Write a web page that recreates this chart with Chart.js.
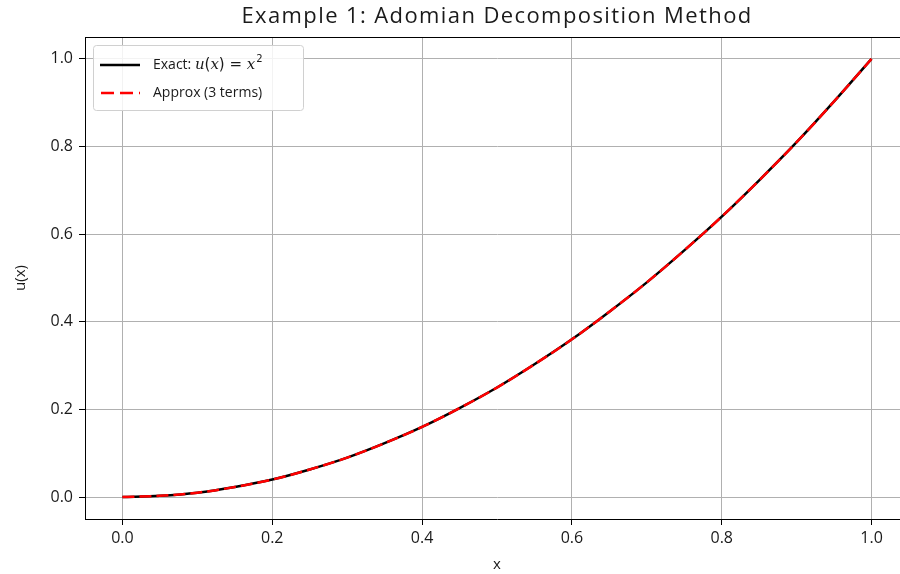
<!DOCTYPE html>
<html>
<head>
<meta charset="utf-8">
<script src="https://cdn.jsdelivr.net/npm/chart.js@4/dist/chart.umd.min.js"></script>
<style>
  html, body { margin: 0; padding: 0; background: #fff; }
  #wrap { width: 900px; height: 574px; overflow: hidden; position: relative; }
  canvas { display: block; }
</style>
</head>
<body>
<div id="wrap"><canvas id="chart" width="912" height="574"></canvas></div>
<script>
// values
const xs       = [0.00, 0.05, 0.10, 0.15, 0.20, 0.25, 0.30, 0.35, 0.40, 0.45, 0.50,
                  0.55, 0.60, 0.65, 0.70, 0.75, 0.80, 0.85, 0.90, 0.95, 1.00];
const exactU   = [0.000, 0.003, 0.010, 0.023, 0.040, 0.063, 0.090, 0.123, 0.160, 0.203, 0.250,
                  0.303, 0.360, 0.423, 0.490, 0.563, 0.640, 0.723, 0.810, 0.903, 1.000];
const approxU  = [0.000, 0.003, 0.010, 0.023, 0.040, 0.063, 0.090, 0.123, 0.160, 0.203, 0.250,
                  0.303, 0.360, 0.423, 0.490, 0.563, 0.640, 0.723, 0.810, 0.903, 1.000];
const xTicks   = [0.0, 0.2, 0.4, 0.6, 0.8, 1.0];
const yTicks   = [0.0, 0.2, 0.4, 0.6, 0.8, 1.0];
const titleText = 'Example 1: Adomian Decomposition Method';

const FONT = '"Open Sans", "DejaVu Sans", sans-serif';
const TXT = '#1a1a1a';

function pts(ys) { return xs.map((x, i) => ({ x: x, y: ys[i] })); }

// title, frame and legend drawn by hand (mixed italic in legend)
const decor = {
  id: 'decor',
  afterDraw(chart) {
    const c = chart.ctx, a = chart.chartArea;
    c.save();
    // frame top/right
    c.strokeStyle = '#000'; c.lineWidth = 1;
    c.beginPath();
    c.moveTo(a.left, a.top + 0.5); c.lineTo(a.right, a.top + 0.5);
    c.moveTo(a.right - 0.5, a.top); c.lineTo(a.right - 0.5, a.bottom);
    c.stroke();
    // title
    c.fillStyle = TXT;
    c.font = '22px ' + FONT;
    c.letterSpacing = '1.4px';
    c.textAlign = 'center'; c.textBaseline = 'middle';
    c.fillText(titleText, (a.left + a.right) / 2, 17);
    c.letterSpacing = '0px';
    // legend box
    const bx = 93, by = 45, bw = 210, bh = 65;
    c.fillStyle = 'rgba(255,255,255,0.85)';
    c.strokeStyle = '#d0d0d0';
    c.beginPath();
    c.roundRect(bx + 0.5, by + 0.5, bw, bh, 3);
    c.fill(); c.stroke();
    // sample lines
    c.lineWidth = 2.5;
    c.strokeStyle = '#000';
    c.beginPath(); c.moveTo(100, 65); c.lineTo(140, 65); c.stroke();
    c.strokeStyle = '#ff0000';
    c.setLineDash([13, 6]);
    c.beginPath(); c.moveTo(101, 93); c.lineTo(140, 93); c.stroke();
    c.setLineDash([]);
    // labels
    c.fillStyle = TXT;
    c.textAlign = 'left'; c.textBaseline = 'middle';
    let x = 153;
    c.font = '14px ' + FONT;
    c.fillText('Exact: ', x, 65); x += c.measureText('Exact: ').width;
    c.font = 'italic 15px "DejaVu Serif", serif';
    c.fillText('u', x, 65); x += c.measureText('u').width;
    c.font = '15px "DejaVu Sans", sans-serif';
    c.fillText('(', x, 65); x += c.measureText('(').width;
    c.font = 'italic 15px "DejaVu Serif", serif';
    c.fillText('x', x, 65); x += c.measureText('x').width;
    c.font = '15px "DejaVu Sans", sans-serif';
    c.fillText(') = ', x, 65); x += c.measureText(') = ').width;
    c.font = 'italic 15px "DejaVu Serif", serif';
    c.fillText('x', x, 65); x += c.measureText('x').width + 1;
    c.font = '10px "DejaVu Sans", sans-serif';
    c.fillText('2', x, 59);
    c.font = '14px ' + FONT;
    c.fillText('Approx (3 terms)', 153, 93);
    c.restore();
  }
};

new Chart(document.getElementById('chart'), {
  type: 'line',
  data: {
    datasets: [
      {
        label: 'Approx (3 terms)',
        data: pts(approxU),
        borderColor: '#ff0000',
        borderWidth: 2.5,
        borderDash: [12, 5],
        pointRadius: 0,
        cubicInterpolationMode: 'monotone',
        fill: false
      },
      {
        label: 'Exact: u(x) = x^2',
        data: pts(exactU),
        borderColor: '#000',
        borderWidth: 2.5,
        pointRadius: 0,
        cubicInterpolationMode: 'monotone',
        fill: false
      }
    ]
  },
  options: {
    responsive: false,
    animation: false,
    layout: { padding: { top: 37, right: 3, left: 0, bottom: 0 } },
    plugins: { legend: { display: false }, tooltip: { enabled: false } },
    scales: {
      x: {
        type: 'linear',
        min: -0.05, max: 1.05,
        afterBuildTicks: s => { s.ticks = xTicks.map(v => ({ value: v })); },
        afterFit: s => { s.height = 55; },
        grid: { color: '#b0b0b0', lineWidth: 1, tickColor: '#000', tickLength: 6, drawTicks: true },
        border: { color: '#000', width: 1 },
        ticks: { color: TXT, font: { family: FONT, size: 16 }, padding: 4,
                 callback: v => v.toFixed(1) },
        title: { display: true, text: 'x', color: TXT, font: { family: FONT, size: 15 }, padding: { top: 4, bottom: 0 } }
      },
      y: {
        min: -0.05, max: 1.05,
        afterBuildTicks: s => { s.ticks = yTicks.map(v => ({ value: v })); },
        afterFit: s => { s.width = 85; },
        grid: { color: '#b0b0b0', lineWidth: 1, tickColor: '#000', tickLength: 6, drawTicks: true },
        border: { color: '#000', width: 1 },
        ticks: { color: TXT, font: { family: FONT, size: 16 }, padding: 6,
                 callback: v => v.toFixed(1) },
        title: { display: true, text: 'u(x)', color: TXT, font: { family: FONT, size: 15 }, padding: { top: 12, bottom: 4 } }
      }
    }
  },
  plugins: [decor]
});
</script>
</body>
</html>
